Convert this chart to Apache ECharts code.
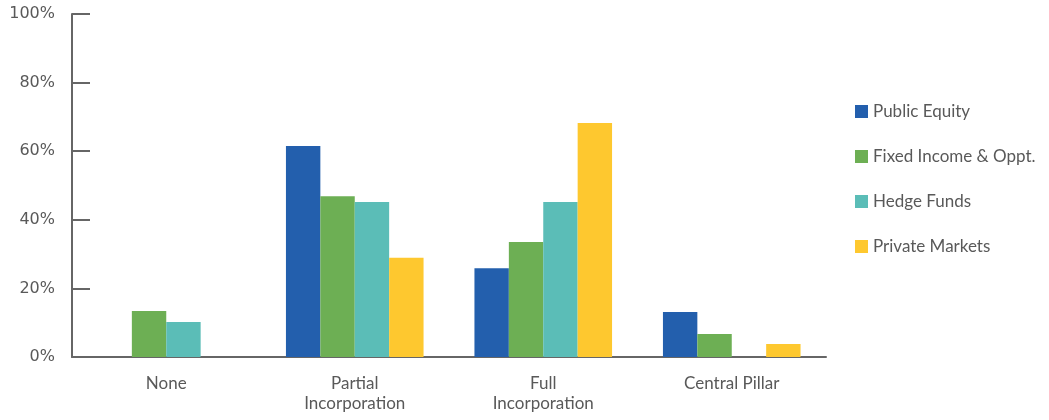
<!DOCTYPE html>
<html>
<head>
<meta charset="utf-8">
<script src="https://cdn.jsdelivr.net/npm/echarts@6/dist/echarts.min.js"></script>
<style>html,body{margin:0;padding:0;background:#fff;}#c{width:1049px;height:420px;}</style>
</head>
<body>
<div id="c"></div>
<script>
var categories = ['None', 'Partial\nIncorporation', 'Full\nIncorporation', 'Central Pillar'];
var seriesNames = ['Public Equity', 'Fixed Income & Oppt.', 'Hedge Funds', 'Private Markets'];
var publicEquity = [0, 61.5, 25.9, 13.1];
var fixedIncome = [13.4, 46.9, 33.5, 6.7];
var hedgeFunds = [10.2, 45.2, 45.2, 0];
var privateMarkets = [0, 28.9, 68.2, 3.8];
var yTicks = {min: 0, max: 100, interval: 20};
var colors = ['#235FAD', '#6DAF54', '#5BBDB7', '#FEC82F'];

var values = [publicEquity, fixedIncome, hedgeFunds, privateMarkets];
var chart = echarts.init(document.getElementById('c'), null, {renderer: 'canvas'});
var series = seriesNames.map(function (n, i) {
  return {
    name: n, type: 'bar', data: values[i],
    itemStyle: {color: colors[i]},
    barGap: '0%', barCategoryGap: '27%'
  };
});
chart.setOption({
  animation: false,
  grid: {left: 72, right: 223, top: 14, bottom: 63, containLabel: false},
  legend: {
    orient: 'vertical', left: 850, top: 98,
    itemWidth: 13, itemHeight: 13, itemGap: 28,
    icon: 'rect',
    textStyle: {fontFamily: 'Lato', fontSize: 17, color: '#595959', lineHeight: 17, padding: [0, 0, 0, 0]},
    data: seriesNames
  },
  xAxis: {
    type: 'category', data: categories,
    axisLine: {lineStyle: {color: '#666666', width: 2}},
    axisTick: {show: false},
    axisLabel: {fontFamily: 'Lato', fontSize: 17, color: '#595959', lineHeight: 20, margin: 17}
  },
  yAxis: {
    type: 'value', min: yTicks.min, max: yTicks.max, interval: yTicks.interval,
    axisLine: {show: true, lineStyle: {color: '#666666', width: 2}},
    axisTick: {show: true, inside: true, length: 18, lineStyle: {color: '#666666', width: 2}},
    splitLine: {show: false},
    axisLabel: {formatter: '{value}%', fontFamily: 'DejaVu Sans', fontSize: 16, color: '#595959', margin: 17}
  },
  series: series
});
</script>
</body>
</html>
